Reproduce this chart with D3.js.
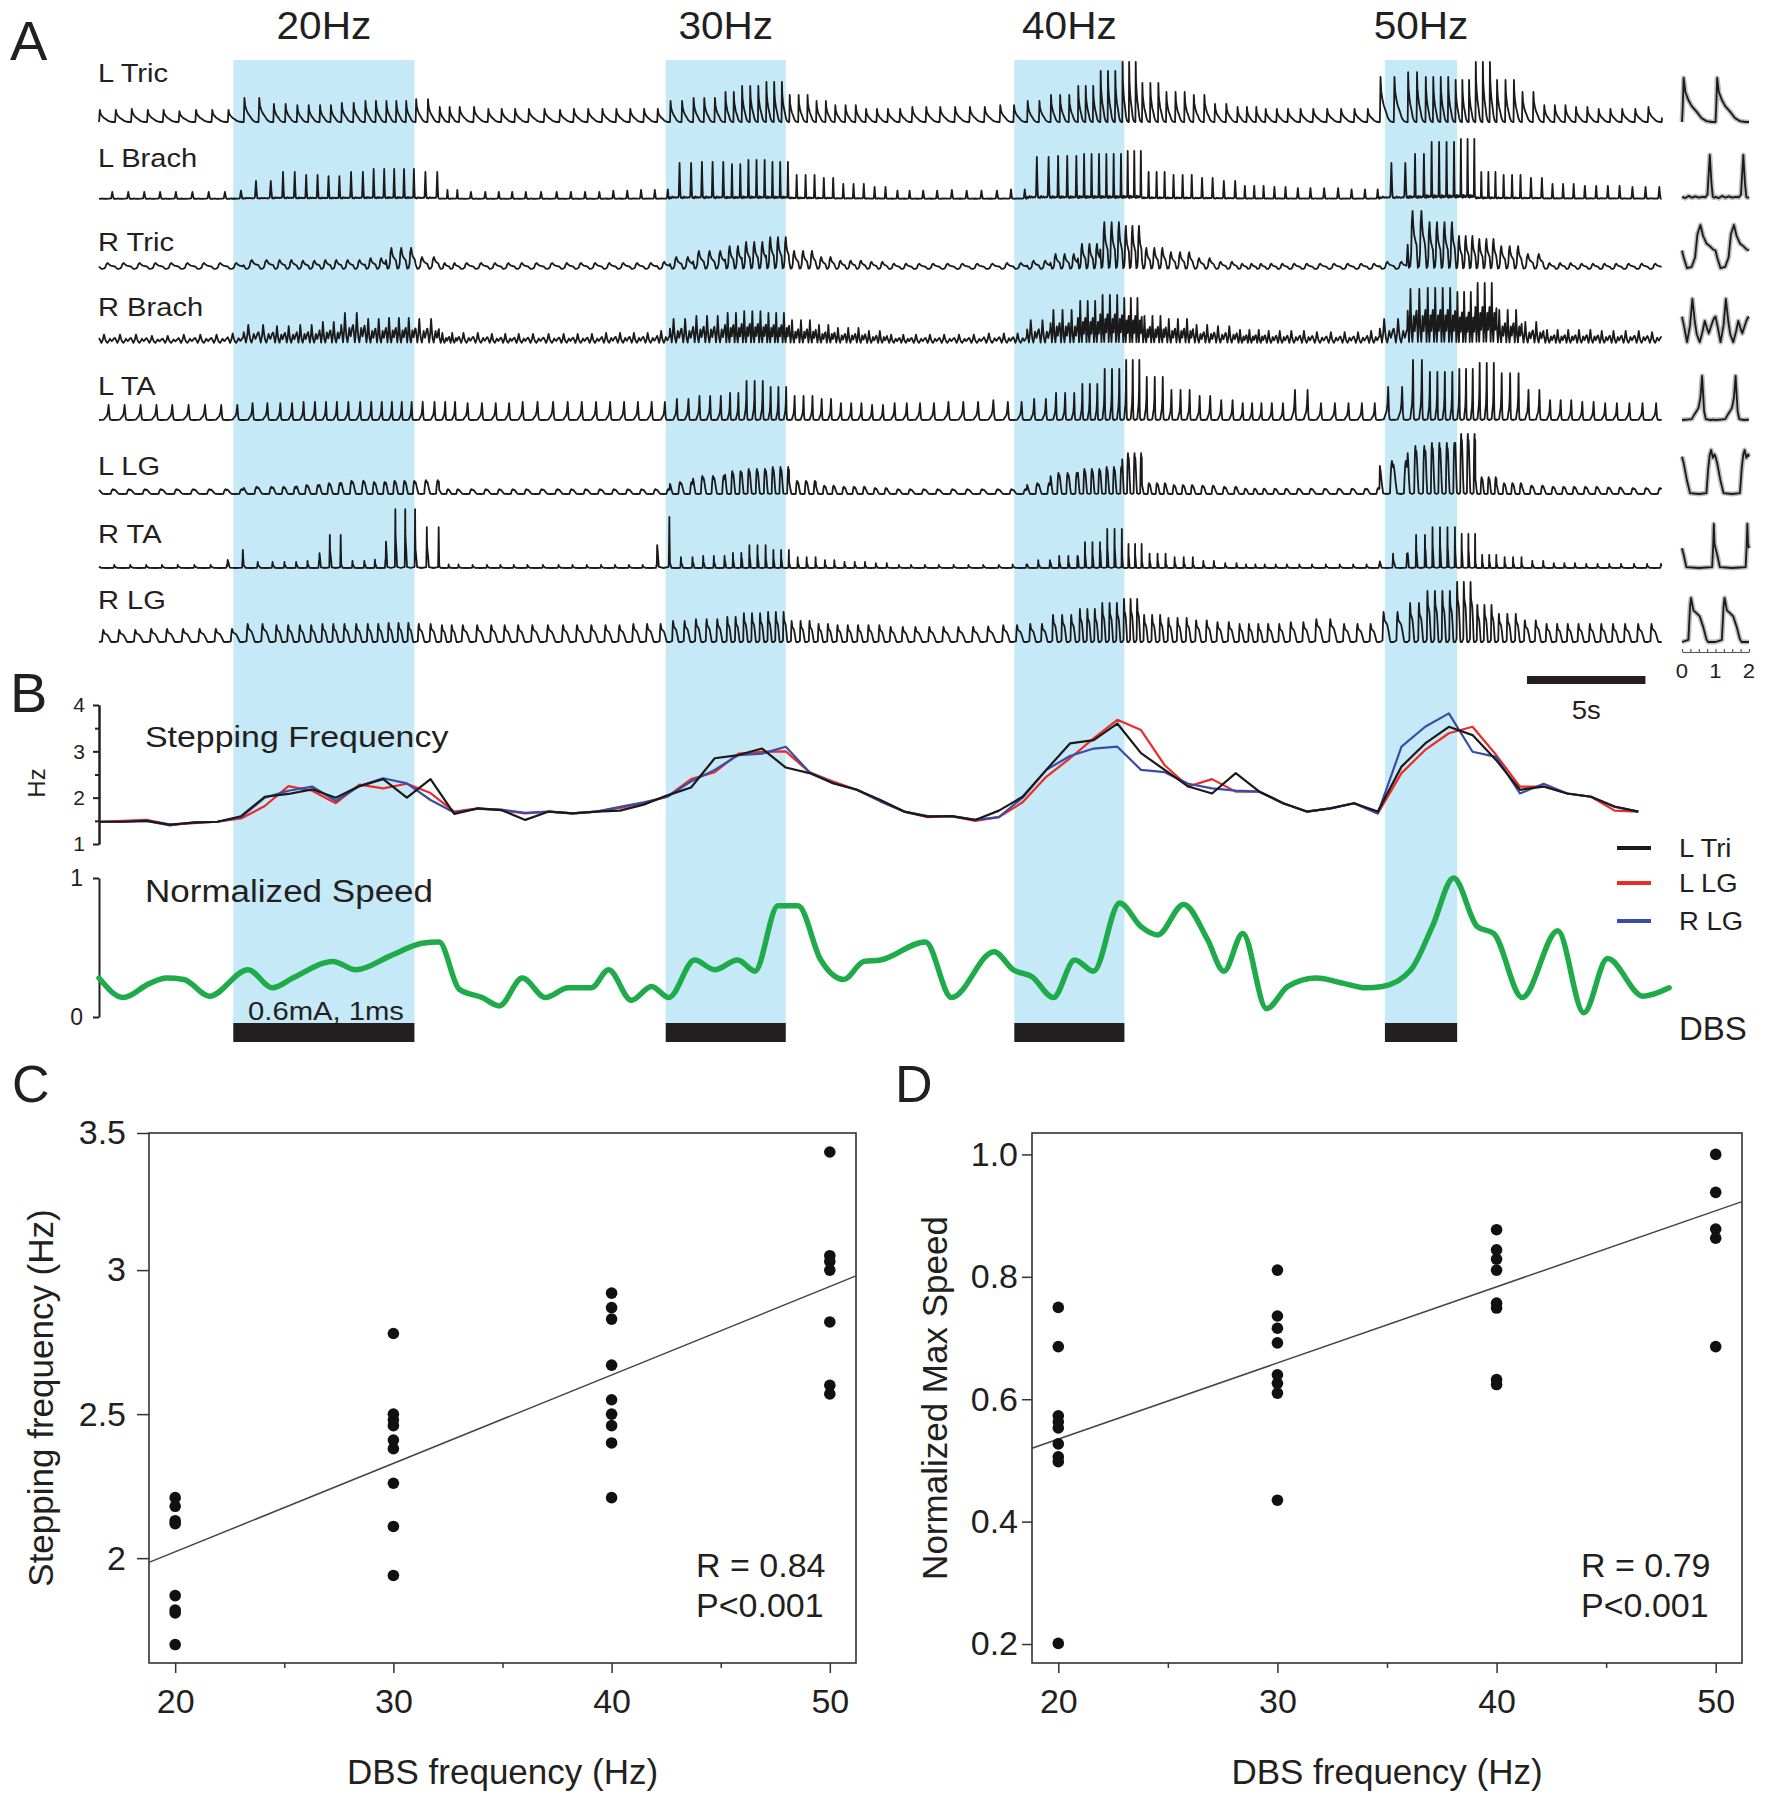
<!DOCTYPE html>
<html lang="en">
<head>
<meta charset="UTF-8">
<title>DBS frequency and stepping</title>
<script src="https://d3js.org/d3.v7.min.js"></script>
<style>
  body { margin: 0; background: #fff; }
  text { font-family: "Liberation Sans", Arial, sans-serif; fill: #231f20; }
</style>
</head>
<body>
<div id="chart"></div>
<script>
// ---------------- data ----------------
const muscles = ["L Tric", "L Brach", "R Tric", "R Brach", "L TA", "L LG", "R TA", "R LG"];
const bandLabels = ["20Hz", "30Hz", "40Hz", "50Hz"];
const bandStart = [5.67, 23.93, 38.65, 54.3];   // s
const bandEnd = [13.32, 29.0, 43.3, 57.35];

// EMG burst amplitude, one value per second (% of the largest burst)
const envLTric = [20,22,20,18,20,20, 40,30,28,28,32,35,35,38, 25,25,22,22,22,20,22,22,22,22, 35,40,50,60,67, 45,35,28,22, 22,25,25,25,25,28, 35,45,60,85,100, 65,50,45,30, 25,22,22,22,22,22, 75,83,75,70, 100,70,50, 28,25,22,22,25];
const envLBrach = [12,12,12,12,12,14, 30,45,40,38,45,50,50,45, 15,12,12,12,12,12,12,14,15,16, 60,62,58,65,62, 40,35,25,20, 14,14,15,14,14,16, 70,72,75,75,80, 45,40,35,30, 22,20,18,18,16,16, 60,75,95,100, 45,40,35, 25,22,22,20,20];
const envRTric = [10,10,10,10,10,10, 15,15,14,15,15,18,35,20, 10,10,10,10,10,10,10,10,10,12, 20,30,38,45,53, 30,20,14,12, 9,9,9,9,9,10, 14,25,42,78,72, 35,28,18,12, 9,9,9,9,9,9, 12,97,78,55, 50,38,25, 10,9,9,9,9];
const envRBrach = [14,14,12,14,14,16, 30,28,30,35,50,40,42,40, 17,17,15,15,15,15,15,17,17,20, 40,45,50,53,50, 38,30,25,20, 14,14,14,14,16,16, 38,55,70,80,75, 45,40,30,28, 22,20,20,18,18,20, 40,90,92,85, 100,55,35, 22,22,20,20,18];
const envLTA = [25,25,25,25,25,25, 28,28,30,30,30,30,30,30, 30,28,28,30,30,30,30,30,30,30, 35,40,45,65,55, 40,35,28,25, 28,28,30,30,33,30, 35,45,60,85,100, 72,50,40,33, 28,28,50,28,28,28, 55,100,80,85, 95,78,50, 33,30,28,28,28];
const envLLG = [8,8,8,8,8,8, 12,12,15,18,22,20,22,23, 8,8,8,8,8,8,8,8,8,8, 20,30,38,42,45, 22,14,12,10, 8,8,8,8,8,8, 18,35,42,45,68, 18,15,14,12, 9,9,9,9,9,10, 55,80,85,100, 28,18,14, 12,12,11,10,10];
const envRTA = [5,5,5,5,5,30, 10,10,12,55,12,14,98,68, 6,5,5,5,5,5,5,5,5,85, 18,20,25,38,30, 18,13,10,8, 5,5,5,5,5,6, 13,20,43,65,40, 24,18,12,8, 6,6,6,6,6,6, 24,55,68,57, 22,18,12, 8,7,7,7,7];
const envRLG = [20,20,22,22,22,22, 30,28,28,30,30,30,32,30, 28,28,28,28,28,28,28,28,30,30, 35,38,42,48,50, 35,30,28,28, 25,25,25,25,26,28, 30,45,55,65,72, 45,40,36,33, 30,30,33,38,30,30, 50,65,85,100, 62,47,36, 30,30,30,30,30];

// mean step cycle per muscle (right-hand insets): [phase, normalised EMG]
const cycLTric = [[0,0],[0.02,0.3],[0.05,1],[0.1,0.68],[0.19,0.5],[0.29,0.36],[0.44,0.23],[0.58,0.09],[0.73,0.02],[0.9,0]];
const cycLBrach = [[0,0.05],[0.1,0.02],[0.2,0.07],[0.3,0.03],[0.4,0.06],[0.5,0.03],[0.6,0.05],[0.7,0.04],[0.76,0.1],[0.83,1],[0.88,0.35],[0.92,0.05],[0.96,0.03]];
const cycRTric = [[0,0.42],[0.05,0.26],[0.15,0.02],[0.29,0.05],[0.39,0.26],[0.46,0.79],[0.55,1],[0.63,0.75],[0.73,0.58],[0.83,0.52],[0.92,0.45]];
const cycRBrach = [[0,0.6],[0.07,0.35],[0.15,0.02],[0.24,0.4],[0.31,1],[0.38,0.5],[0.44,0.2],[0.53,0.02],[0.61,0.25],[0.68,0.5],[0.74,0.35],[0.8,0.22],[0.92,0.5],[0.97,0.58]];
const cycLTA = [[0,0],[0.15,0.01],[0.29,0.02],[0.39,0.15],[0.49,0.27],[0.55,0.5],[0.6,1],[0.66,0.2],[0.71,0.02],[0.85,0],[0.95,0.01]];
const cycLLG = [[0,0.85],[0.05,0.7],[0.15,0.3],[0.24,0.02],[0.5,0],[0.73,0.02],[0.78,0.56],[0.83,0.9],[0.87,1],[0.92,0.82],[0.97,0.9]];
const cycRTA = [[0,0.45],[0.05,0.3],[0.13,0.02],[0.5,0],[0.9,0.02],[0.93,0.5],[0.95,1],[0.97,0.55]];
const cycRLG = [[0,0],[0.19,0.05],[0.24,0.8],[0.27,1],[0.34,0.72],[0.44,0.65],[0.53,0.58],[0.63,0.35],[0.73,0.06],[0.78,0],[0.95,0]];

// stepping frequency (Hz), one sample per second
const stepLTri = [1.48,1.48,1.50,1.42,1.46,1.48, 1.60,2.02,2.08,2.18,2.00,2.25,2.40,2.00,2.40, 1.65,1.77,1.73,1.52,1.70,1.66,1.70,1.72,1.85, 2.05,2.22,2.85,2.92,3.06,2.65,2.53,2.31,2.17, 1.95,1.70,1.59,1.60,1.52,1.72, 2.02,2.60,3.17,3.24,3.60,2.96,2.60,2.24,2.09,2.53,2.13, 1.88,1.70,1.77,1.88,1.70, 2.67,3.17,3.53,3.35,2.81, 2.17,2.24,2.09,2.02,1.81,1.70];
const stepLLG = [1.48,1.50,1.52,1.42,1.45,1.48, 1.55,1.82,2.25,2.15,1.88,2.28,2.20,2.30,2.10, 1.70,1.77,1.73,1.66,1.70,1.66,1.70,1.78,1.88, 2.02,2.40,2.55,2.95,2.99,3.00,2.55,2.35,2.17, 1.92,1.70,1.58,1.60,1.50,1.58, 1.90,2.45,2.85,3.28,3.68,3.46,2.70,2.24,2.40,2.13,2.13, 1.88,1.70,1.77,1.88,1.66, 2.53,3.03,3.39,3.53,2.92, 2.24,2.24,2.09,2.02,1.72,1.70];
const stepRLG = [1.48,1.48,1.50,1.40,1.47,1.48, 1.58,2.00,2.15,2.24,1.93,2.25,2.42,2.31,1.95, 1.68,1.76,1.74,1.67,1.70,1.66,1.70,1.80,1.90, 2.02,2.35,2.60,2.92,2.95,3.10,2.55,2.31,2.17, 1.92,1.70,1.60,1.60,1.52,1.58, 2.00,2.60,2.90,3.06,3.10,2.60,2.55,2.30,2.20,2.15,2.13, 1.88,1.70,1.77,1.88,1.66, 3.10,3.53,3.82,2.99,2.88, 2.09,2.30,2.09,2.02,1.80,1.70];

// normalised speed: time (s) and value
const speedT = [0,1.03,2.12,2.85,3.58,4.67, 6.29,7.33,8.18,9.88,10.85, 12.3,13.64,14.36,15.21,16.18, 16.9,17.88,18.85,19.82,20.79, 21.52,22.48,23.33,24.06,25.15, 26.0,26.97,27.7,28.67,29.52, 30.48,31.45,32.3,33.0,34.9, 36.0,37.8,38.6,39.4,40.3, 41.2,42.0,43.1,44.0,44.7, 45.8,46.8,47.5,48.3,49.3, 50.2,51.4,52.6,53.5,54.2, 55.4,56.3,57.2,58.2,58.9, 60.1,61.6,62.7,63.7,65.2, 66.3];
const speedV = [0.28,0.14,0.24,0.28,0.27,0.15, 0.34,0.21,0.28,0.40,0.34, 0.44,0.53,0.54,0.20,0.14, 0.08,0.28,0.14,0.21,0.21, 0.34,0.12,0.22,0.14,0.41, 0.34,0.41,0.33,0.80,0.80, 0.41,0.27,0.40,0.41,0.54, 0.14,0.47,0.34,0.29,0.14, 0.41,0.33,0.82,0.65,0.59, 0.81,0.56,0.33,0.60,0.06, 0.22,0.28,0.24,0.21,0.22, 0.34,0.65,1.0,0.65,0.60, 0.14,0.62,0.03,0.42,0.15, 0.21];

// panels C and D
const dbsFreq = [20, 30, 40, 50];
const stepByFreq = [
  [2.21, 2.18, 2.13, 2.12, 1.87, 1.82, 1.81, 1.70],
  [2.78, 2.50, 2.48, 2.46, 2.41, 2.38, 2.26, 2.11, 1.94],
  [2.92, 2.87, 2.83, 2.67, 2.55, 2.50, 2.46, 2.40, 2.21],
  [3.41, 3.05, 3.03, 3.00, 2.82, 2.60, 2.57]
];
const speedByFreq = [
  [0.75, 0.686, 0.573, 0.563, 0.553, 0.527, 0.506, 0.498, 0.201],
  [0.811, 0.736, 0.716, 0.692, 0.640, 0.626, 0.610, 0.435],
  [0.877, 0.844, 0.829, 0.811, 0.757, 0.749, 0.632, 0.624],
  [1.0, 0.938, 0.878, 0.863, 0.686]
];
const fitStep = [1.408, 0.0307];   // intercept, slope
const fitSpeed = [0.286, 0.01244];
const statsStep = ["R = 0.84", "P<0.001"];
const statsSpeed = ["R = 0.79", "P<0.001"];

// ---------------- drawing ----------------
const W = 1766, H = 1800;
const svg = d3.select("#chart").append("svg")
    .attr("width", W).attr("height", H);
svg.append("rect").attr("width", W).attr("height", H).attr("fill", "#fff");

// text with a little horizontal stretch like the original figure
function label(g, x, y, str, size, sx, anchor) {
    return g.append("text")
        .attr("transform", "translate(" + x + "," + y + ") scale(" + (sx || 1) + ",1)")
        .attr("font-size", size)
        .attr("text-anchor", anchor || "start")
        .text(str);
}

const x = d3.scaleLinear().domain([0, 66]).range([99, 1662]);   // time, s

// DBS windows
const bands = svg.append("g");
bandStart.forEach(function(s, i) {
    bands.append("rect")
        .attr("x", x(s)).attr("width", x(bandEnd[i]) - x(s))
        .attr("y", 60).attr("height", 963)
        .attr("fill", "#c6e9f8");
    bands.append("rect")
        .attr("x", x(s)).attr("width", x(bandEnd[i]) - x(s))
        .attr("y", 1023).attr("height", 19)
        .attr("fill", "#231f20");
    label(svg, (x(s) + x(bandEnd[i])) / 2, 39, bandLabels[i], 39, 1.04, "middle");
});

// panel letters
label(svg, 10, 60, "A", 56, 1);
label(svg, 10, 712, "B", 56, 1);
label(svg, 12, 1102, "C", 52, 1);
label(svg, 895, 1102, "D", 52, 1);

// ---- A: EMG traces ----
const envs = [envLTric, envLBrach, envRTric, envRBrach, envLTA, envLLG, envRTA, envRLG];
const cycles = [cycLTric, cycLBrach, cycRTric, cycRBrach, cycLTA, cycLLG, cycRTA, cycRLG];
const rowBase = [122, 199, 269, 343, 420, 494, 568, 642];
const labelBase = [82, 167, 251, 316, 395, 475, 543, 609];

// step onsets follow the L Tri stepping frequency
const onsets = [];
let s0 = 0;
while (s0 < 66) {
    onsets.push(s0);
    s0 += 1 / stepLTri[Math.min(stepLTri.length - 1, Math.floor(s0))];
}

const traces = svg.append("g");
const insetX = d3.scaleLinear().domain([0, 2]).range([1682, 1749]);

muscles.forEach(function(m, i) {
    const y = d3.scaleLinear().domain([0, 100]).range([rowBase[i], rowBase[i] - 60]);
    const pts = [];
    onsets.forEach(function(st) {
        const per = 1 / stepLTri[Math.min(stepLTri.length - 1, Math.floor(st))];
        const a = envs[i][Math.min(envs[i].length - 1, Math.floor(st))];
        cycles[i].forEach(function(c) {
            const tt = st + c[0] * per;
            if (tt <= 66) pts.push([tt, a * c[1]]);
        });
    });
    traces.append("path")
        .attr("d", d3.line().x(d => x(d[0])).y(d => y(d[1]))(pts))
        .attr("fill", "none").attr("stroke", "#1a1a1a")
        .attr("stroke-width", 1.8).attr("stroke-linejoin", "round");
    label(svg, 98, labelBase[i], m, 26, 1.12);

    // inset: mean of two step cycles
    const iy = d3.scaleLinear().domain([0, 1]).range([rowBase[i], rowBase[i] - 44]);
    const ipts = [];
    [0, 1].forEach(function(k) {
        cycles[i].forEach(function(c) { ipts.push([k + c[0], c[1]]); });
    });
    ipts.push([2, cycles[i][0][1]]);
    const iline = d3.line().x(d => insetX(d[0])).y(d => iy(d[1]));
    traces.append("path").attr("d", iline(ipts))
        .attr("fill", "none").attr("stroke", "#bdbdbd").attr("stroke-width", 5)
        .attr("stroke-linejoin", "round");
    traces.append("path").attr("d", iline(ipts))
        .attr("fill", "none").attr("stroke", "#1a1a1a").attr("stroke-width", 1.8)
        .attr("stroke-linejoin", "round");
});

// inset phase axis
const insetAxis = svg.append("g").attr("transform", "translate(0,652)")
    .call(d3.axisBottom(insetX).tickValues([0, 0.25, 0.5, 0.75, 1, 1.25, 1.5, 1.75, 2])
        .tickSize(-3).tickSizeOuter(0).tickFormat(""));
insetAxis.selectAll("path,line").attr("stroke", "#555").attr("stroke-width", 1.2);
[0, 1, 2].forEach(function(v) { label(svg, insetX(v), 678, String(v), 21, 1.05, "middle"); });

// 5 s scale bar
svg.append("rect").attr("x", x(60.3)).attr("width", x(65.3) - x(60.3))
    .attr("y", 676).attr("height", 8).attr("fill", "#231f20");
label(svg, (x(60.3) + x(65.3)) / 2, 719, "5s", 25, 1.1, "middle");

// ---- B: stepping frequency and speed ----
const yHz = d3.scaleLinear().domain([1, 4]).range([844, 705]);
const hzAxis = svg.append("g").attr("transform", "translate(99,0)")
    .call(d3.axisLeft(yHz).tickValues([1, 2, 3, 4]).tickFormat(d3.format("d"))
        .tickSize(6).tickPadding(8).tickSizeOuter(0));
svg.append("g").attr("transform", "translate(99,0)")
    .call(d3.axisLeft(yHz).tickValues([1.5, 2.5, 3.5]).tickSize(4).tickFormat("").tickSizeOuter(0))
    .selectAll("path,line").attr("stroke", "#231f20").attr("stroke-width", 2);
hzAxis.selectAll("path,line").attr("stroke", "#231f20").attr("stroke-width", 2);
hzAxis.selectAll("text").attr("font-size", 21).attr("fill", "#231f20")
    .attr("font-family", "Liberation Sans, Arial, sans-serif");
svg.append("text").attr("transform", "translate(36,783) rotate(-90)")
    .attr("font-size", 24).attr("text-anchor", "middle").attr("dominant-baseline", "central")
    .text("Hz");
label(svg, 145, 747, "Stepping Frequency", 30, 1.13);

const stepSeries = [stepLTri, stepLLG, stepRLG];
const stepColors = ["#1a1a1a", "#ee2a24", "#3a4ca6"];
const stepNames = ["L Tri", "L LG", "R LG"];
const hzLine = d3.line().x((d, i) => x(i)).y(d => yHz(d));
[1, 2, 0].forEach(function(k) {
    svg.append("path").attr("d", hzLine(stepSeries[k]))
        .attr("fill", "none").attr("stroke", stepColors[k]).attr("stroke-width", 2.2)
        .attr("stroke-linejoin", "round");
});

// legend
stepNames.forEach(function(n, i) {
    const ly = [848, 883, 921][i];
    svg.append("line").attr("x1", 1617).attr("x2", 1651).attr("y1", ly).attr("y2", ly)
        .attr("stroke", stepColors[i]).attr("stroke-width", 4);
    label(svg, 1679, ly + 9, n, 25, 1.1);
});

const ySpeed = d3.scaleLinear().domain([0, 1]).range([1017, 878]);
const spAxis = svg.append("g").attr("transform", "translate(99,0)")
    .call(d3.axisLeft(ySpeed).tickValues([0, 1]).tickFormat(d3.format("d"))
        .tickSize(6).tickPadding(10).tickSizeOuter(0));
spAxis.selectAll("path,line").attr("stroke", "#231f20").attr("stroke-width", 2);
spAxis.selectAll("text").attr("font-size", 23).attr("fill", "#231f20")
    .attr("font-family", "Liberation Sans, Arial, sans-serif");
label(svg, 145, 902, "Normalized Speed", 31, 1.13);

svg.append("path")
    .attr("d", d3.line().x((d, i) => x(speedT[i])).y(d => ySpeed(d)).curve(d3.curveMonotoneX)(speedV))
    .attr("fill", "none").attr("stroke", "#1fab4a").attr("stroke-width", 5.5)
    .attr("stroke-linejoin", "round").attr("stroke-linecap", "round");

label(svg, 248, 1020, "0.6mA, 1ms", 25, 1.17);
label(svg, 1679, 1040, "DBS", 33, 1.0);

// ---- C and D: scatter plots ----
function scatter(opts) {
    const g = svg.append("g");
    const sx = d3.scaleLinear().domain([18.8, 51.2]).range([opts.left, opts.right]);
    const sy = d3.scaleLinear().domain(opts.yDomain).range([1663, 1133]).clamp(true);

    g.append("rect").attr("x", opts.left).attr("y", 1133)
        .attr("width", opts.right - opts.left).attr("height", 530)
        .attr("fill", "none").attr("stroke", "#333").attr("stroke-width", 1.6);

    const ax = g.append("g").attr("transform", "translate(0,1663)")
        .call(d3.axisBottom(sx).tickValues(dbsFreq).tickSize(10).tickPadding(16).tickSizeOuter(0));
    const axm = g.append("g").attr("transform", "translate(0,1663)")
        .call(d3.axisBottom(sx).tickValues([25, 35, 45]).tickSize(5).tickFormat("").tickSizeOuter(0));
    const ay = g.append("g").attr("transform", "translate(" + opts.left + ",0)")
        .call(d3.axisLeft(sy).tickValues(opts.yTicks).tickFormat(opts.fmt)
            .tickSize(opts.tick).tickPadding(opts.pad).tickSizeOuter(0));
    [ax, axm, ay].forEach(function(a) {
        a.select(".domain").remove();
        a.selectAll("line").attr("stroke", "#333").attr("stroke-width", 1.5);
        a.selectAll("text").attr("font-size", 34).attr("fill", "#231f20")
            .attr("font-family", "Liberation Sans, Arial, sans-serif");
    });

    // regression line
    const f = d => opts.fit[0] + opts.fit[1] * d;
    g.append("line")
        .attr("x1", sx(18.8)).attr("y1", sy(f(18.8)))
        .attr("x2", sx(51.2)).attr("y2", sy(f(51.2)))
        .attr("stroke", "#444").attr("stroke-width", 1.5);

    opts.values.forEach(function(vals, i) {
        g.selectAll(null).data(vals).enter().append("circle")
            .attr("cx", sx(dbsFreq[i])).attr("cy", d => sy(d))
            .attr("r", 5.8).attr("fill", "#111");
    });

    label(g, opts.statX, 1577, opts.stats[0], 34, 1);
    label(g, opts.statX, 1617, opts.stats[1], 34, 1);
    label(g, (opts.left + opts.right) / 2, 1784, "DBS frequency (Hz)", 35, 1, "middle");
    g.append("text")
        .attr("transform", "translate(" + opts.titleX + ",1398) rotate(-90)")
        .attr("font-size", 35).attr("text-anchor", "middle").attr("dominant-baseline", "central")
        .text(opts.yTitle);
}

scatter({
    left: 149, right: 856, yDomain: [1.636, 3.476],
    yTicks: [2, 2.5, 3, 3.5], fmt: d => String(d), tick: 12, pad: 11,
    values: stepByFreq, fit: fitStep, stats: statsStep, statX: 696,
    yTitle: "Stepping frequency (Hz)", titleX: 40
});
scatter({
    left: 1032, right: 1742, yDomain: [0.169, 1.035],
    yTicks: [0.2, 0.4, 0.6, 0.8, 1.0], fmt: d3.format(".1f"), tick: 10, pad: 4,
    values: speedByFreq, fit: fitSpeed, stats: statsSpeed, statX: 1581,
    yTitle: "Normalized Max Speed", titleX: 934
});
</script>
</body>
</html>
